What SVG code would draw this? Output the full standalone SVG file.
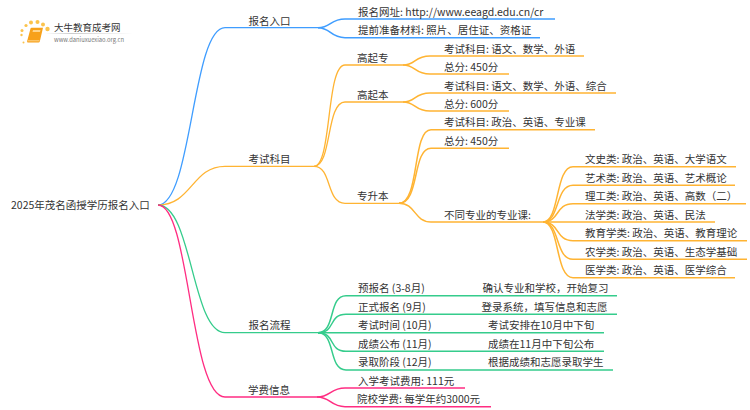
<svg xmlns="http://www.w3.org/2000/svg" width="750" height="410" viewBox="0 0 750 410">
<style>
text{font-family:"Noto Sans CJK SC","Noto Sans",sans-serif;font-size:10.5px;fill:#333}
#connectors path{fill:none;stroke-width:1.3}
.b{stroke:#3f9dff}.o{stroke:#ffb433}.g{stroke:#35cc8c}.p{stroke:#ff2d82}
.leaf{stroke-width:1.5!important}
.dot{fill:#fbc34c}
</style>
<defs><linearGradient id="fade" x1="0" x2="1" y1="0" y2="0"><stop offset="0" stop-color="#ccc" stop-opacity="0"/><stop offset=".3" stop-color="#ccc"/><stop offset="1" stop-color="#ccc" stop-opacity="0"/></linearGradient></defs>
<rect width="750" height="410" fill="#fff"/>
<g id="logo">
<circle class="dot" cx="21.500" cy="35" r="1.200"/><circle class="dot" cx="22" cy="30.500" r="1.500"/><circle class="dot" cx="26" cy="25.500" r="1.600"/><circle class="dot" cx="31" cy="22.500" r="2"/><circle class="dot" cx="37.500" cy="22" r="2"/><circle class="dot" cx="43" cy="24.500" r="2"/><circle class="dot" cx="47.500" cy="29" r="2.200"/><circle class="dot" cx="23.500" cy="42.500" r="1"/>
<path d="M30.500,28.500 Q30.800,27.800 31.500,27.800 H43 L39.800,41.500 Q39.500,42.500 38.500,42.500 H28 Q26.800,42.500 27.200,41 Z" fill="#f7a11a"/><path d="M33,30 H40.500 L40,32 H32.500 Z" fill="#ffd58a"/><path d="M28,40.800 H39.500" stroke="#ffe3ad" stroke-width=".8"/>
<rect x="45" y="33" width="88" height="1" fill="url(#fade)"/>
<text x="54" y="31" style="font-size:9.500px">大牛教育成考网</text>
<text x="54" y="41.500" style="font-size:5.800px;fill:#777">www.daniuxuexiao.org.cn</text>
</g>
<g id="connectors">
<path class="b" d="M158,205C192,205 192,27.700 225,27.700H318"/>
<path class="o" d="M158,205C192,205 192,166.300 225,166.300H314"/>
<path class="g" d="M158,205C192,205 192,332.700 225,332.700H318"/>
<path class="p" d="M158,205C190,205 190,397 225,397H317"/>
<path class="b leaf" d="M318,27.700C331,27.700 330,19 345,19H555"/>
<path class="b leaf" d="M318,27.700C331,27.700 330,37.700 345,37.700H540"/>
<path class="o" d="M314,166.300C332,166.300 326,65 345,65H403"/>
<path class="o" d="M314,166.300C332,166.300 326,102 345,102H403"/>
<path class="o" d="M314,166.300C332,166.300 326,203.300 345,203.300H399"/>
<path class="o leaf" d="M403,65C416,65 414,56 430,56H584"/>
<path class="o leaf" d="M403,65C416,65 414,74 430,74H509"/>
<path class="o leaf" d="M403,102C416,102 414,93 430,93H616"/>
<path class="o leaf" d="M403,102C416,102 414,111 430,111H509"/>
<path class="o leaf" d="M399,203.300C420,203.300 412,129.700 431,129.700H595"/>
<path class="o leaf" d="M399,203.300C420,203.300 412,148.300 431,148.300H509"/>
<path class="o leaf" d="M399,203.300C416,203.300 414,222 431,222H543"/>
<path class="o leaf" d="M543,222C560,222 555,166.700 573,166.700H736"/>
<path class="o leaf" d="M543,222C560,222 555,185.300 573,185.300H735"/>
<path class="o leaf" d="M543,222C560,222 555,203.700 573,203.700H746"/>
<path class="o leaf" d="M543,222H715"/>
<path class="o leaf" d="M543,222C560,222 555,240.700 573,240.700H747"/>
<path class="o leaf" d="M543,222C560,222 555,259.300 573,259.300H747"/>
<path class="o leaf" d="M543,222C560,222 555,277.700 573,277.700H735"/>
<path class="g leaf" d="M318,332.700C336,332.700 328,295.700 346,295.700H617"/>
<path class="g leaf" d="M318,332.700C336,332.700 328,314.300 346,314.300H617"/>
<path class="g leaf" d="M318,332.700H604"/>
<path class="g leaf" d="M318,332.700C336,332.700 328,351.300 346,351.300H604"/>
<path class="g leaf" d="M318,332.700C336,332.700 328,370 346,370H613"/>
<path class="p leaf" d="M317,397C331,397 330,388 345,388H465"/>
<path class="p leaf" d="M317,397C331,397 330,406.700 345,406.700H491"/>
</g>
<g id="root"><text x="11" y="209">2025年茂名函授学历报名入口</text></g>
<g id="n1"><text x="248.500" y="25">报名入口</text></g>
<g id="n1-1"><text x="358" y="15.500">报名网址: http://www.eeagd.edu.cn/cr</text></g>
<g id="n1-2"><text x="358" y="34">提前准备材料: 照片、居住证、资格证</text></g>
<g id="n2"><text x="248.500" y="163">考试科目</text></g>
<g id="n2-1"><text x="357" y="62">高起专</text></g>
<g id="n2-1-1"><text x="444" y="53">考试科目: 语文、数学、外语</text></g>
<g id="n2-1-2"><text x="444" y="71">总分: 450分</text></g>
<g id="n2-2"><text x="357" y="99">高起本</text></g>
<g id="n2-2-1"><text x="444" y="90">考试科目: 语文、数学、外语、综合</text></g>
<g id="n2-2-2"><text x="444" y="108">总分: 600分</text></g>
<g id="n2-3"><text x="357" y="200">专升本</text></g>
<g id="n2-3-1"><text x="444" y="126">考试科目: 政治、英语、专业课</text></g>
<g id="n2-3-2"><text x="444" y="145">总分: 450分</text></g>
<g id="n2-3-3"><text x="444" y="219">不同专业的专业课:</text></g>
<g id="m1"><text x="585" y="163">文史类: 政治、英语、大学语文</text></g>
<g id="m2"><text x="585" y="182">艺术类: 政治、英语、艺术概论</text></g>
<g id="m3"><text x="585" y="200">理工类: 政治、英语、高数（二）</text></g>
<g id="m4"><text x="585" y="219">法学类: 政治、英语、民法</text></g>
<g id="m5"><text x="585" y="237">教育学类: 政治、英语、教育理论</text></g>
<g id="m6"><text x="585" y="256">农学类: 政治、英语、生态学基础</text></g>
<g id="m7"><text x="585" y="274">医学类: 政治、英语、医学综合</text></g>
<g id="n3"><text x="248.500" y="329">报名流程</text></g>
<g id="s1"><text x="358" y="292">预报名 (3-8月)</text><text x="482.500" y="292">确认专业和学校，开始复习</text></g>
<g id="s2"><text x="358" y="311">正式报名 (9月)</text><text x="481.500" y="311">登录系统，填写信息和志愿</text></g>
<g id="s3"><text x="358" y="329">考试时间 (10月)</text><text x="488" y="329">考试安排在10月中下旬</text></g>
<g id="s4"><text x="358" y="348">成绩公布 (11月)</text><text x="488" y="348">成绩在11月中下旬公布</text></g>
<g id="s5"><text x="358" y="366">录取阶段 (12月)</text><text x="488" y="366">根据成绩和志愿录取学生</text></g>
<g id="n4"><text x="248" y="394">学费信息</text></g>
<g id="f1"><text x="358" y="385">入学考试费用: 111元</text></g>
<g id="f2"><text x="357" y="403">院校学费: 每学年约3000元</text></g>
</svg>
